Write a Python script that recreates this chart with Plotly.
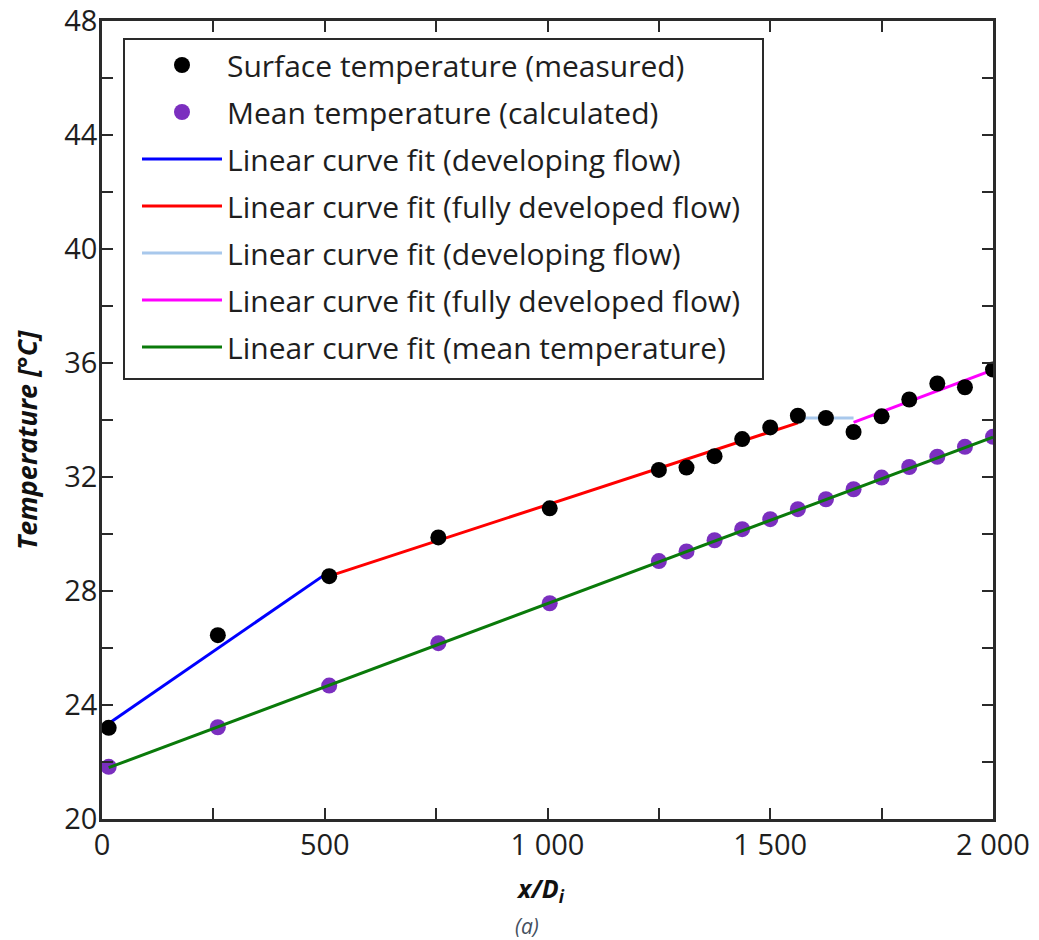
import plotly.graph_objects as go

# ---- data ----
x_pos = [15, 260, 510, 755, 1005, 1250, 1312, 1375, 1437, 1500, 1562, 1625, 1687, 1750, 1812, 1875, 1937, 2000]
surface_temp = [23.2, 26.45, 28.52, 29.88, 30.9, 32.25, 32.33, 32.73, 33.33, 33.74, 34.15, 34.07, 33.58, 34.13, 34.72, 35.28, 35.15, 35.77]
mean_temp = [21.83, 23.22, 24.68, 26.17, 27.57, 29.05, 29.39, 29.78, 30.17, 30.52, 30.87, 31.22, 31.57, 31.98, 32.35, 32.71, 33.06, 33.41]

fit_dev1_x = [15, 510]
fit_dev1_y = [23.35, 28.68]
fit_full1_x = [510, 1562]
fit_full1_y = [28.52, 33.9]
fit_dev2_x = [1562, 1687]
fit_dev2_y = [34.07, 34.07]
fit_full2_x = [1687, 2000]
fit_full2_y = [33.92, 35.76]
fit_mean_x = [15, 2000]
fit_mean_y = [21.8, 33.4]

x_tick_vals = [0, 500, 1000, 1500, 2000]
x_tick_labels = ["0", "500", "1 000", "1 500", "2 000"]
y_tick_vals = [20, 24, 28, 32, 36, 40, 44, 48]
y_tick_labels = ["20", "24", "28", "32", "36", "40", "44", "48"]

names = [
    "Surface temperature (measured)",
    "Mean temperature (calculated)",
    "Linear curve fit (developing flow)",
    "Linear curve fit (fully developed flow)",
    "Linear curve fit (developing flow)",
    "Linear curve fit (fully developed flow)",
    "Linear curve fit (mean temperature)",
]

FONT = "Open Sans"
TXT = "#1e1e1e"
AX = "#2a2a2a"
LW = 3

fig = go.Figure()
fig.add_trace(go.Scatter(x=fit_dev1_x, y=fit_dev1_y, mode="lines", name=names[2],
                         line=dict(color="#0000FF", width=LW), legendgroup="g3", legendrank=3))
fig.add_trace(go.Scatter(x=fit_full1_x, y=fit_full1_y, mode="lines", name=names[3],
                         line=dict(color="#FF0000", width=LW), legendgroup="g4", legendrank=4))
fig.add_trace(go.Scatter(x=fit_dev2_x, y=fit_dev2_y, mode="lines", name=names[4],
                         line=dict(color="#A8C8EC", width=LW), legendgroup="g5", legendrank=5))
fig.add_trace(go.Scatter(x=fit_full2_x, y=fit_full2_y, mode="lines", name=names[5],
                         line=dict(color="#FF00FF", width=LW), legendgroup="g6", legendrank=6))
fig.add_trace(go.Scatter(x=x_pos, y=surface_temp, mode="markers", name=names[0],
                         marker=dict(color="#000000", size=16), legendgroup="g1", legendrank=1))
fig.add_trace(go.Scatter(x=x_pos, y=mean_temp, mode="markers", name=names[1],
                         marker=dict(color="#7B2FBF", size=16), legendgroup="g2", legendrank=2))
fig.add_trace(go.Scatter(x=fit_mean_x, y=fit_mean_y, mode="lines", name=names[6],
                         line=dict(color="#0A7A0A", width=LW), legendgroup="g7", legendrank=7))

L, R, T, B = 102, 46, 21, 121
W, H = 1039, 940
ph = H - T - B
pw = W - L - R


def px_x(p):
    return (p - L) / pw


def px_y(p):
    return (H - B - p) / ph


fig.update_layout(
    width=W, height=H,
    margin=dict(l=L, r=R, t=T, b=B, pad=0, autoexpand=False),
    paper_bgcolor="white", plot_bgcolor="white",
    font=dict(family=FONT, size=29, color=TXT),
    showlegend=True,
    legend=dict(
        x=px_x(137), y=px_y(39), xanchor="left", yanchor="top",
        bgcolor="rgba(0,0,0,0)", borderwidth=0,
        font=dict(family=FONT, size=30, color=TXT),
        traceorder="grouped", tracegroupgap=5, itemwidth=80,
    ),
    xaxis=dict(
        range=[0, 2000], tickvals=x_tick_vals, ticktext=x_tick_labels,
        ticks="inside", ticklen=11, tickwidth=2, tickcolor=AX,
        minor=dict(dtick=250, tick0=0, ticks="inside", ticklen=11, tickwidth=2, tickcolor=AX),
        showline=True, linewidth=2.5, linecolor=AX, mirror="ticks",
        showgrid=False, zeroline=False, ticklabelstandoff=-2, automargin=False,
        tickfont=dict(family=FONT, size=29, color=TXT),
    ),
    yaxis=dict(
        range=[20, 48], tickvals=y_tick_vals, ticktext=y_tick_labels,
        ticks="inside", ticklen=11, tickwidth=2, tickcolor=AX,
        minor=dict(dtick=2, tick0=20, ticks="inside", ticklen=11, tickwidth=2, tickcolor=AX),
        showline=True, linewidth=2.5, linecolor=AX, mirror="ticks",
        showgrid=False, zeroline=False, ticklabelstandoff=-4, automargin=False,
        tickfont=dict(family=FONT, size=29, color=TXT),
    ),
    shapes=[
        dict(type="rect", xref="paper", yref="paper",
             x0=px_x(124), x1=px_x(763), y0=px_y(379), y1=px_y(39),
             line=dict(color=AX, width=2), fillcolor="white", layer="above"),
    ],
    annotations=[
        dict(text="<b><i>Temperature [°C]</i></b>", xref="paper", yref="paper",
             x=px_x(26), y=px_y(440), textangle=-90, showarrow=False,
             xanchor="center", yanchor="middle", font=dict(family=FONT, size=27, color="#111111")),
        dict(text="<b><i>x/D<sub>i</sub></i></b>", xref="paper", yref="paper",
             x=px_x(540), y=px_y(889), showarrow=False,
             xanchor="center", yanchor="middle", font=dict(family=FONT, size=25, color="#111111")),
        dict(text="<i>(a)</i>", xref="paper", yref="paper",
             x=px_x(527), y=px_y(926), showarrow=False,
             xanchor="center", yanchor="middle", font=dict(family=FONT, size=21, color="#45505F")),
    ],
)

fig.write_html("out.html", config={"displayModeBar": False},
               post_script="document.body.style.margin='0';")
